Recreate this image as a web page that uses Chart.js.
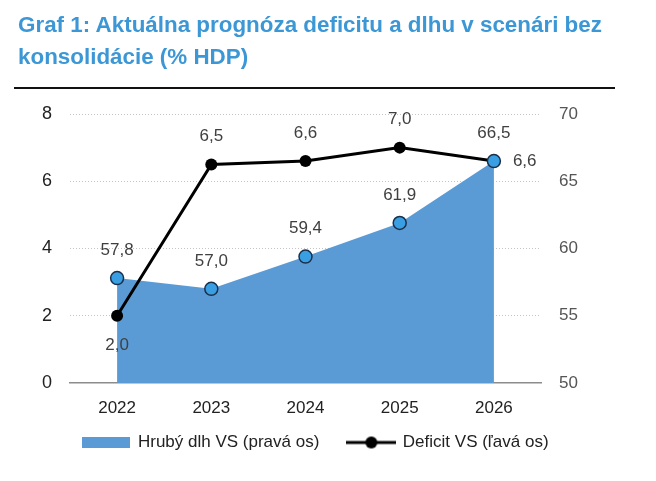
<!DOCTYPE html>
<html><head><meta charset="utf-8">
<script src="https://cdn.jsdelivr.net/npm/chart.js@4"></script>
<style>
html,body{margin:0;padding:0;background:#fff;}
#wrap{position:relative;width:656px;height:481px;overflow:hidden;background:#fff;}
#title{position:absolute;left:18px;top:9px;font:bold 22.4px 'Liberation Sans',Arial,sans-serif;color:#3b97d5;line-height:32px;white-space:nowrap;}
#rule{position:absolute;left:14px;top:87px;width:601px;height:2px;background:#111;}
canvas{position:absolute;left:0;top:0;}
</style></head>
<body><div id="wrap"><canvas id="c" width="656" height="481"></canvas><div id="title">Graf 1: Aktuálna prognóza deficitu a dlhu v scenári bez<br>konsolidácie (% HDP)</div><div id="rule"></div></div>
<script>
const categories = ['2022', '2023', '2024', '2025', '2026'];
const debtValues = [57.8, 57.0, 59.4, 61.9, 66.5];
const deficitValues = [2.0, 6.5, 6.6, 7.0, 6.6];
const debtName = 'Hrubý dlh VS (pravá os)';
const deficitName = 'Deficit VS (ľavá os)';
const leftTicks = [0, 2, 4, 6, 8];
const rightTicks = [50, 55, 60, 65, 70];
const debtLabelPlacement = ['above', 'above', 'above', 'above', 'above'];
const deficitLabelPlacement = ['below', 'above', 'above', 'above', 'right'];

const FONT = "'Liberation Sans', Arial, sans-serif";
const AREA = '#5b9bd5';

function fmt(v) { return v.toFixed(1).replace('.', ','); }

// legend marker images
const rectImg = document.createElement('canvas');
rectImg.width = 48; rectImg.height = 11;
(function () { const c = rectImg.getContext('2d'); c.fillStyle = AREA; c.fillRect(0, 0, 48, 11); })();
const lineImg = document.createElement('canvas');
lineImg.width = 50; lineImg.height = 14;
(function () {
  const c = lineImg.getContext('2d');
  c.strokeStyle = '#000'; c.lineWidth = 3;
  c.beginPath(); c.moveTo(0, 7); c.lineTo(50, 7); c.stroke();
  c.fillStyle = '#000'; c.beginPath(); c.arc(25, 7, 6, 0, Math.PI * 2); c.fill();
})();
const legendImgs = [rectImg, lineImg];

const labelPlugin = {
  id: 'valueLabels',
  afterDatasetsDraw(chart) {
    const ctx = chart.ctx;
    ctx.save();
    ctx.font = '17px ' + FONT;
    ctx.fillStyle = '#404040';
    ctx.textBaseline = 'middle';
    chart.data.datasets.forEach((ds, di) => {
      const meta = chart.getDatasetMeta(di);
      meta.data.forEach((pt, i) => {
        const place = ds.labelPlacement[i];
        let x = pt.x, y = pt.y;
        if (place === 'above') { ctx.textAlign = 'center'; y -= 28; }
        else if (place === 'below') { ctx.textAlign = 'center'; y += 30; }
        else { ctx.textAlign = 'left'; x += 19; }
        ctx.fillText(fmt(ds.data[i]), x, y);
      });
    });
    ctx.restore();
  }
};

// pull the legend up closer to the category labels
const legendShift = {
  id: 'legendShift',
  afterLayout(chart) {
    const lg = chart.legend;
    if (lg) { lg.top -= 18; lg.bottom -= 18; }
  }
};

new Chart(document.getElementById('c'), {
  type: 'line',
  data: {
    labels: categories,
    datasets: [
      {
        label: debtName,
        data: debtValues,
        yAxisID: 'y1',
        fill: 'start',
        backgroundColor: AREA,
        borderColor: 'rgba(0,0,0,0)',
        borderWidth: 0,
        pointRadius: 6.5,
        pointBackgroundColor: '#3a9fe2',
        pointBorderColor: '#1b2f4a',
        pointBorderWidth: 1.5,
        tension: 0,
        labelPlacement: debtLabelPlacement
      },
      {
        label: deficitName,
        data: deficitValues,
        yAxisID: 'y',
        fill: false,
        borderColor: '#000',
        borderWidth: 3,
        pointRadius: 6,
        pointBackgroundColor: '#000',
        pointBorderColor: '#000',
        pointBorderWidth: 0,
        tension: 0,
        labelPlacement: deficitLabelPlacement
      }
    ]
  },
  options: {
    responsive: false,
    animation: false,
    devicePixelRatio: 1,
    layout: { padding: { left: 0, right: 24, top: 114, bottom: 2 } },
    scales: {
      x: {
        type: 'category',
        offset: true,
        grid: { display: false, drawTicks: false },
        border: { display: true, color: '#8c8c8c', width: 1.5 },
        ticks: { font: { size: 17, family: FONT }, color: '#222', padding: 15, maxRotation: 0 },
        afterFit(s) { s.height = 40; }
      },
      y: {
        position: 'left',
        min: 0, max: 8,
        afterBuildTicks(s) { s.ticks = leftTicks.map(v => ({ value: v })); },
        grid: {
          drawTicks: false,
          lineWidth: 1,
          color: c => (c.tick && c.tick.value === 0) ? 'rgba(0,0,0,0)' : '#c4c4c4'
        },
        border: { display: false, dash: [1, 2] },
        ticks: { font: { size: 18, family: FONT }, color: '#222', padding: 18 },
        afterFit(s) { s.width = 70; }
      },
      y1: {
        position: 'right',
        min: 50, max: 70,
        afterBuildTicks(s) { s.ticks = rightTicks.map(v => ({ value: v })); },
        grid: { display: false, drawTicks: false },
        border: { display: false },
        ticks: { font: { size: 17, family: FONT }, color: '#555', padding: 18 },
        afterFit(s) { s.width = 91; }
      }
    },
    plugins: {
      filler: { drawTime: 'beforeDatasetsDraw' },
      tooltip: { enabled: false },
      legend: {
        position: 'bottom',
        labels: {
          usePointStyle: true,
          pointStyleWidth: 46,
          padding: 29,
          color: '#222',
          font: { size: 17, family: FONT },
          generateLabels(chart) {
            const items = Chart.defaults.plugins.legend.labels.generateLabels(chart);
            items.forEach((it, i) => { it.pointStyle = legendImgs[i]; });
            return items;
          }
        }
      }
    }
  },
  plugins: [labelPlugin, legendShift]
});
</script>
</body></html>
